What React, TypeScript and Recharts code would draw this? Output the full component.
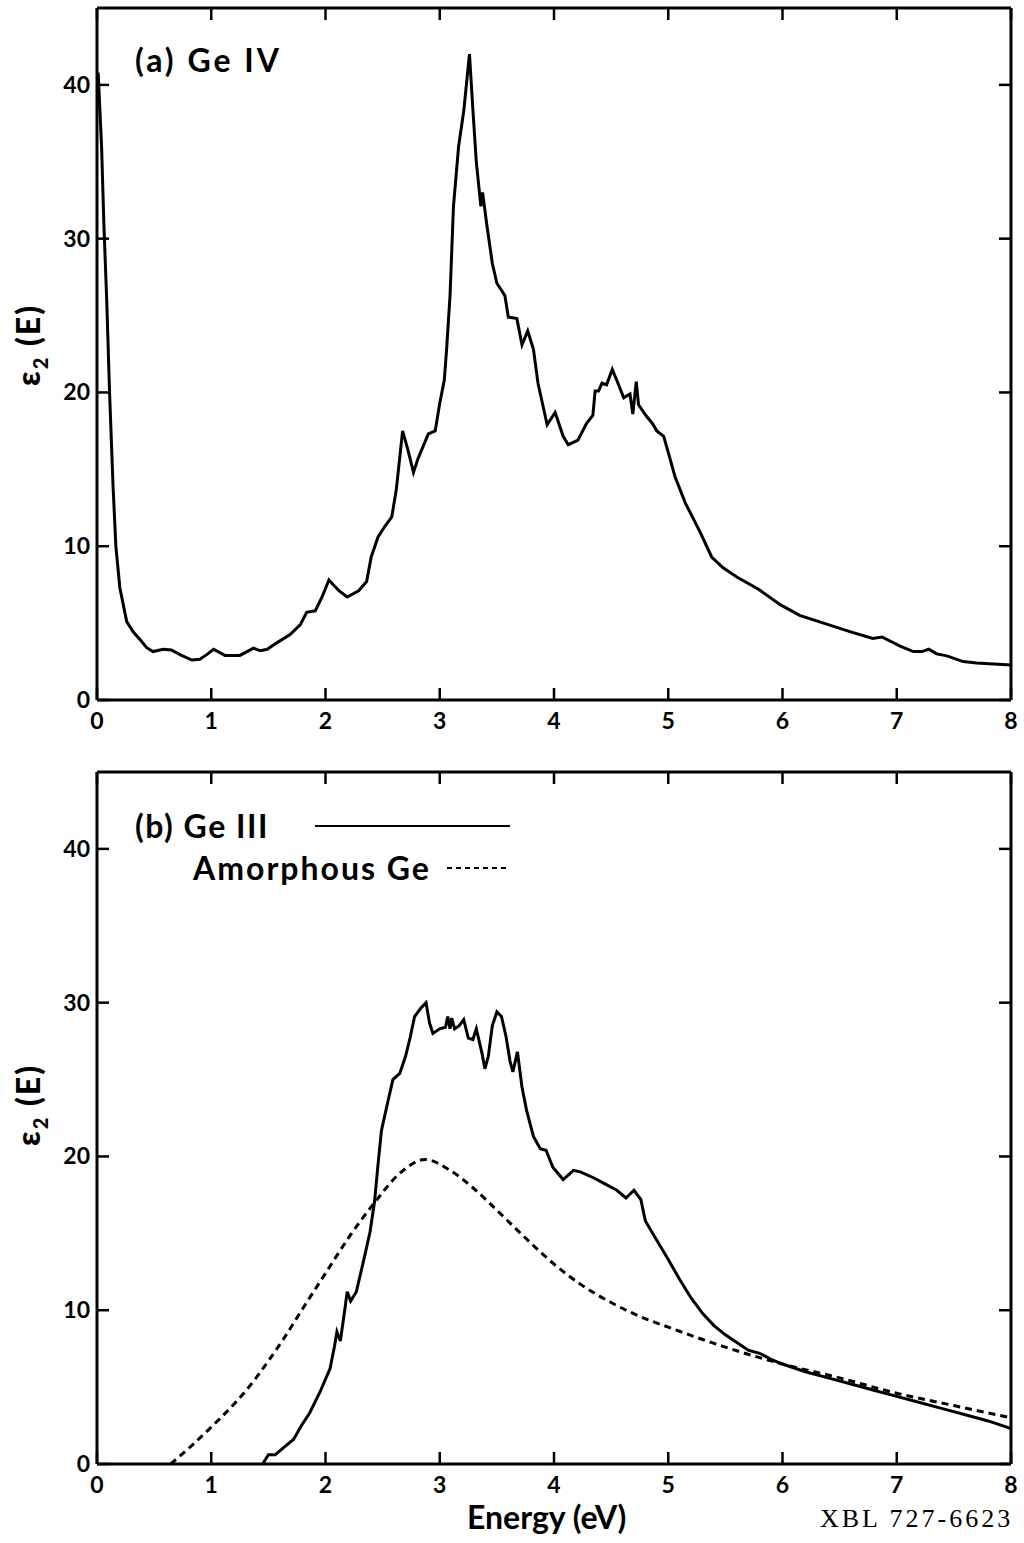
import React from 'react';
import { LineChart, Line, XAxis, YAxis } from 'recharts';

// values (energy in eV, eps2 dimensionless)
const geIVEnergy = [
  0.01, 0.04, 0.06, 0.085, 0.11, 0.14, 0.165, 0.2, 0.26, 0.32, 0.38, 0.435, 0.49, 0.58, 0.65, 0.74, 0.83, 0.9,
  0.96, 1.02, 1.12, 1.25, 1.37, 1.43, 1.49, 1.57, 1.69, 1.78, 1.835, 1.91, 1.97, 2.03, 2.08, 2.12, 2.19, 2.29,
  2.36, 2.4, 2.46, 2.52, 2.58, 2.62, 2.675, 2.72, 2.77, 2.81, 2.9, 2.96, 3.0, 3.04, 3.06, 3.09, 3.12, 3.165, 3.21,
  3.26, 3.29, 3.32, 3.36, 3.375, 3.41, 3.46, 3.5, 3.57, 3.6, 3.675, 3.72, 3.77, 3.82, 3.86, 3.94, 4.01, 4.08,
  4.125, 4.21, 4.285, 4.34, 4.36, 4.39, 4.42, 4.46, 4.51, 4.56, 4.61, 4.665, 4.69, 4.72, 4.74, 4.81, 4.86, 4.9,
  4.96, 5.0, 5.06, 5.15, 5.28, 5.38, 5.48, 5.6, 5.79, 5.98, 6.15, 6.4, 6.59, 6.79, 6.87, 7.03, 7.145, 7.22, 7.28,
  7.35, 7.44, 7.58, 7.7, 8.0,
];
const geIVEps2 = [
  40.8, 36, 31, 26, 20, 14, 10, 7.3, 5.1, 4.4, 3.9, 3.4, 3.15, 3.3, 3.25, 2.9, 2.6, 2.65,
  2.95, 3.3, 2.9, 2.9, 3.37, 3.2, 3.3, 3.7, 4.25, 4.9, 5.7, 5.8, 6.7, 7.8, 7.4, 7.1, 6.7, 7.1,
  7.7, 9.3, 10.6, 11.3, 11.9, 13.7, 17.5, 16.3, 14.8, 15.7, 17.3, 17.5, 19.3, 20.8, 22.8, 26.3, 32.1, 36.0, 38.3,
  42.0, 38.4, 35.0, 32.1, 33.0, 31.0, 28.4, 27.1, 26.3, 24.9, 24.8, 23.1, 24.0, 22.8, 20.6, 17.9, 18.7, 17.15,
  16.6, 16.9, 18.0, 18.5, 20.1, 20.1, 20.6, 20.5, 21.5, 20.6, 19.65, 19.9, 18.6, 20.7, 19.2, 18.45, 18.0, 17.5,
  17.15, 16.1, 14.5, 12.8, 10.9, 9.3, 8.6, 8.0, 7.2, 6.2, 5.5, 4.9, 4.45, 4.0, 4.1, 3.5, 3.15, 3.15, 3.3,
  3.0, 2.87, 2.5, 2.4, 2.28,
];

const geIIIEnergy = [
  1.45, 1.5, 1.56, 1.63, 1.72, 1.79, 1.86, 1.95, 2.04, 2.08, 2.1, 2.13, 2.17, 2.19, 2.22, 2.27, 2.345, 2.39, 2.43,
  2.46, 2.49, 2.55, 2.59, 2.65, 2.7, 2.74, 2.78, 2.83, 2.88, 2.91, 2.94, 3.0, 3.05, 3.07, 3.09, 3.105, 3.13, 3.17,
  3.21, 3.25, 3.29, 3.32, 3.37, 3.395, 3.425, 3.46, 3.5, 3.54, 3.58, 3.615, 3.64, 3.68, 3.72, 3.76, 3.82, 3.88,
  3.93, 3.99, 4.08, 4.17, 4.23, 4.35, 4.45, 4.55, 4.63, 4.7, 4.76, 4.8, 4.88, 5.0, 5.1, 5.2, 5.3, 5.4, 5.5, 5.6,
  5.7, 5.8, 5.9, 6.0, 6.2, 6.4, 6.6, 6.8, 7.0, 7.2, 7.4, 7.6, 7.8, 8.0,
];
const geIIIEps2 = [
  0, 0.6, 0.6, 1.05, 1.6, 2.5, 3.3, 4.65, 6.2, 7.7, 8.6, 8.0, 10.1, 11.2, 10.6, 11.2, 13.6, 15.1, 17.1,
  19.5, 21.7, 23.7, 25.0, 25.4, 26.5, 27.7, 29.1, 29.6, 30.0, 28.7, 28.0, 28.3, 28.4, 29.1, 28.3, 29.0, 28.3, 28.5,
  28.9, 27.7, 27.6, 28.3, 26.7, 25.7, 26.5, 28.5, 29.4, 29.1, 27.8, 26.2, 25.5, 26.8, 24.5, 23.0, 21.3, 20.5,
  20.4, 19.3, 18.5, 19.1, 19.0, 18.6, 18.2, 17.8, 17.3, 17.8, 17.2, 15.8, 14.8, 13.3, 12.0, 10.8, 9.8, 9.0, 8.4, 7.9,
  7.4, 7.2, 6.8, 6.5, 6.0, 5.6, 5.2, 4.8, 4.4, 4.0, 3.6, 3.2, 2.8, 2.3,
];

const amorphousEnergy = [
  0.645, 0.8, 1.0, 1.2, 1.34, 1.5, 1.63, 1.8, 2.0, 2.21, 2.43, 2.65, 2.87, 3.09, 3.3, 3.5, 3.75, 4.0, 4.25,
  4.5, 4.75, 5.0, 5.5, 6.0, 6.5, 7.0, 7.5, 8.0,
];
const amorphousEps2 = [
  0, 1.0, 2.4, 3.9, 5.1, 6.7, 8.1, 10.1, 12.4, 14.8, 17.0, 18.9, 19.8, 19.1, 17.9, 16.5, 14.7, 13.0, 11.6,
  10.5, 9.6, 8.9, 7.6, 6.5, 5.6, 4.6, 3.8, 3.0,
];

const xTicks = [0, 1, 2, 3, 4, 5, 6, 7, 8];
const yTicks = [0, 10, 20, 30, 40];

const zip = (xs: number[], ys: number[]) => xs.map((e, i) => ({ energy: e, eps: ys[i] }));

const geIV = zip(geIVEnergy, geIVEps2);
const geIII = zip(geIIIEnergy, geIIIEps2);
const amorphous = zip(amorphousEnergy, amorphousEps2);

const FONT = 'Lato, "DejaVu Sans", sans-serif';
const tickStyle = { fontSize: 23, fontWeight: 700, fill: '#000', fontFamily: FONT };
const axisLine = { stroke: '#000', strokeWidth: 3 };
const TICK_LEN = 12;
const X_GAP = 12;
const Y_GAP = 7;
const PLOT_W = 914;
const PLOT_H = 692;

// inward tick marks on both opposite borders, drawn with the label
const BottomTick = ({ x, y, payload }: any) => {
  const base = y - X_GAP;
  return (
    <g>
      <line x1={x} x2={x} y1={base} y2={base - TICK_LEN} stroke="#000" strokeWidth={2.5} />
      <line x1={x} x2={x} y1={base - PLOT_H} y2={base - PLOT_H + TICK_LEN} stroke="#000" strokeWidth={2.5} />
      <text x={x} y={y} dy={17} textAnchor="middle" style={tickStyle}>
        {payload.value}
      </text>
    </g>
  );
};
const LeftTick = ({ x, y, payload }: any) => {
  const base = x + Y_GAP;
  return (
    <g>
      <line x1={base} x2={base + TICK_LEN} y1={y} y2={y} stroke="#000" strokeWidth={2.5} />
      <line x1={base + PLOT_W} x2={base + PLOT_W - TICK_LEN} y1={y} y2={y} stroke="#000" strokeWidth={2.5} />
      <text x={x} y={y} dy={8} textAnchor="end" style={tickStyle}>
        {payload.value}
      </text>
    </g>
  );
};

function Frame({ children, height, top }: { children: React.ReactNode; height: number; top: number }) {
  return (
    <LineChart
      width={1024}
      height={height}
      margin={{ top: top - 1, right: 12, left: 37, bottom: height - top - PLOT_H - 30 }}
    >
      <XAxis
        dataKey="energy"
        type="number"
        domain={[0, 8]}
        ticks={xTicks}
        height={30}
        axisLine={axisLine}
        tickLine={false}
        tickSize={0}
        tickMargin={X_GAP}
        tick={(p: any) => <BottomTick {...p} />}
        allowDataOverflow
      />
      <XAxis
        xAxisId="top"
        orientation="top"
        type="number"
        domain={[0, 8]}
        ticks={xTicks}
        height={1}
        axisLine={axisLine}
        tickLine={false}
        tick={false}
      />
      <YAxis
        type="number"
        domain={[0, 45]}
        ticks={yTicks}
        width={60}
        axisLine={axisLine}
        tickLine={false}
        tickSize={0}
        tickMargin={Y_GAP}
        tick={(p: any) => <LeftTick {...p} />}
        allowDataOverflow
      />
      <YAxis
        yAxisId="right"
        orientation="right"
        type="number"
        domain={[0, 45]}
        ticks={yTicks}
        width={1}
        axisLine={axisLine}
        tickLine={false}
        tick={false}
      />
      {children}
    </LineChart>
  );
}

const YTitle = ({ centerY }: { centerY: number }) => (
  <div
    style={{
      position: 'absolute',
      left: 30,
      top: centerY,
      transform: 'translate(-50%, -50%) rotate(-90deg)',
      fontFamily: FONT,
      fontWeight: 900,
      fontSize: 32,
      letterSpacing: 2,
      whiteSpace: 'nowrap',
    }}
  >
    ε<sub style={{ fontSize: 20 }}>2</sub> (E)
  </div>
);

export default function App() {
  const text: React.CSSProperties = { position: 'absolute', fontFamily: FONT, fontWeight: 700, color: '#000', whiteSpace: 'nowrap' };
  return (
    <div style={{ position: 'absolute', left: 0, top: 0, width: 1024, height: 1543, background: '#fff' }}>
      <div style={{ position: 'absolute', left: 0, top: 0 }}>
        <Frame height={740} top={8}>
          <Line data={geIV} dataKey="eps" type="linear" stroke="#000" strokeWidth={3} dot={false} isAnimationActive={false} />
        </Frame>
      </div>
      <div style={{ position: 'absolute', left: 0, top: 750 }}>
        <Frame height={793} top={22}>
          <Line data={geIII} dataKey="eps" type="linear" stroke="#000" strokeWidth={3} dot={false} isAnimationActive={false} />
          <Line
            data={amorphous}
            dataKey="eps"
            type="monotone"
            stroke="#000"
            strokeWidth={3}
            strokeDasharray="7 5"
            dot={false}
            isAnimationActive={false}
          />
        </Frame>
      </div>

      <YTitle centerY={345} />
      <YTitle centerY={1105} />

      <div style={{ ...text, left: 135, top: 40, fontSize: 32, letterSpacing: 3 }}>(a) Ge IV</div>
      <div style={{ ...text, left: 135, top: 806, fontSize: 32, letterSpacing: 1.5 }}>(b) Ge III</div>
      <div style={{ ...text, left: 193, top: 848, fontSize: 32, letterSpacing: 2 }}>Amorphous Ge</div>
      <svg style={{ position: 'absolute', left: 0, top: 0 }} width={1024} height={1543} pointerEvents="none">
        <line x1={315} x2={510} y1={826} y2={826} stroke="#000" strokeWidth={2} />
        <line x1={447} x2={510} y1={868} y2={868} stroke="#000" strokeWidth={2} strokeDasharray="5 4" />
      </svg>
      <div style={{ ...text, left: 467, top: 1497, fontSize: 32 }}>Energy (eV)</div>
      <div
        style={{
          position: 'absolute',
          left: 820,
          top: 1504,
          fontSize: 26,
          letterSpacing: 3,
          fontFamily: '"Liberation Serif", serif',
          whiteSpace: 'nowrap',
        }}
      >
        XBL 727-6623
      </div>
    </div>
  );
}
